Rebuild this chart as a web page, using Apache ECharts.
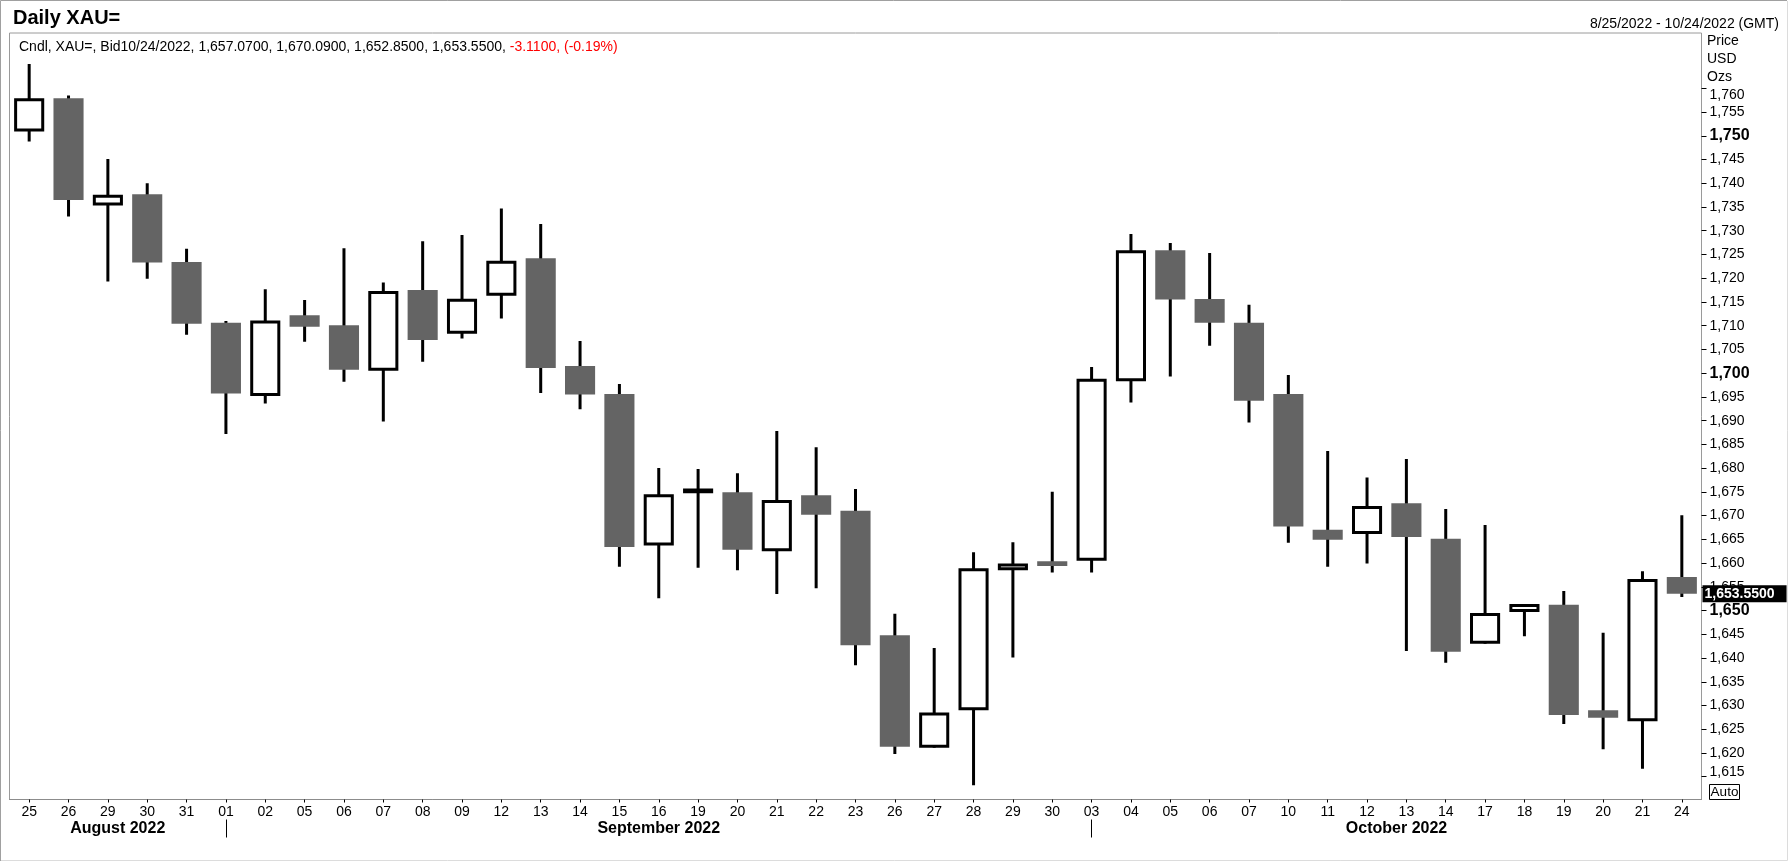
<!DOCTYPE html>
<html>
<head>
<meta charset="utf-8">
<script src="https://cdn.jsdelivr.net/npm/echarts@6/dist/echarts.min.js"></script>
<style>
html,body{margin:0;padding:0;background:#fff;}
#chart{width:1788px;height:862px;}
</style>
</head>
<body>
<div id="chart"></div>
<script>
// ---- data ----
const days = ['25','26','29','30','31','01','02','05','06','07','08','09','12','13','14','15','16','19','20','21','22','23','26','27','28','29','30','03','04','05','06','07','10','11','12','13','14','17','18','19','20','21','24'];
const openP  = [1750.9,1757.9,1735.3,1737.7,1723.4,1710.6,1695.2,1712.2,1710.1,1700.5,1717.5,1708.3,1716.3,1724.2,1701.5,1695.6,1663.7,1674.7,1674.9,1662.5,1674.3,1671.0,1644.8,1621.1,1629.0,1658.5,1660.4,1660.5,1698.3,1725.9,1715.6,1710.6,1695.6,1667.0,1666.1,1672.6,1665.1,1643.0,1649.7,1651.2,1629.0,1626.7,1657.07];
const closeP = [1757.9,1736.5,1737.6,1723.3,1710.4,1695.7,1711.1,1709.8,1700.7,1717.3,1707.0,1715.7,1723.7,1701.1,1695.5,1663.4,1674.5,1675.7,1662.8,1673.3,1670.2,1642.7,1621.3,1628.5,1658.9,1659.9,1659.4,1698.8,1725.9,1715.5,1710.6,1694.2,1667.7,1664.9,1672.0,1665.5,1641.3,1649.5,1651.4,1628.0,1627.4,1656.66,1653.55];
const lowP   = [1748.8,1733.0,1719.3,1719.9,1708.1,1687.2,1693.6,1706.6,1698.2,1689.8,1702.4,1707.3,1711.5,1695.8,1692.4,1659.2,1652.6,1659.0,1658.5,1653.5,1654.7,1638.5,1619.8,1621.1,1613.2,1640.1,1658.0,1658.0,1693.8,1699.3,1705.8,1689.6,1664.3,1659.2,1659.9,1641.5,1639.0,1643.0,1644.6,1626.1,1620.8,1616.7,1652.85];
const highP  = [1765.1,1758.5,1745.1,1740.0,1726.2,1711.0,1717.7,1715.4,1726.3,1719.1,1727.8,1729.1,1734.7,1731.4,1706.8,1697.7,1680.0,1679.8,1678.9,1687.8,1684.4,1675.6,1649.3,1642.1,1662.3,1664.4,1675.0,1701.3,1729.3,1727.4,1725.3,1714.4,1699.6,1683.6,1678.0,1681.9,1671.4,1668.0,1651.4,1654.1,1645.3,1658.3,1670.09];
const monthNames = ['August 2022','September 2022','October 2022'];
const monthStartAt = [5, 27];
const yTickValues = [1615,1620,1625,1630,1635,1640,1645,1650,1655,1660,1665,1670,1675,1680,1685,1690,1695,1700,1705,1710,1715,1720,1725,1730,1735,1740,1745,1750,1755,1760];
const yBoldValues = [1650,1700,1750];
const lastDate = '10/24/2022';
const rangeText = '8/25/2022 - 10/24/2022 (GMT)';
const unitLines = ['Price','USD','Ozs'];

// ---- layout ----
const W = 1788, H = 862;
const plotLeft = 9.5, plotRight = 1701.5, plotTop = 33, plotBottom = 799.5;
const yMin = 1610.2, yMax = 1771.65;
const pxPerUnit = (plotBottom - plotTop) / (yMax - yMin);
const tickFirst = yTickValues[0], tickLast = yTickValues[yTickValues.length-1];
const tickGridTop = plotTop + (yMax - tickLast) * pxPerUnit;
const tickGridBottom = plotTop + (yMax - tickFirst) * pxPerUnit;

// ---- derived ----
const n = days.length;
const candleData = days.map((d,i)=>[i, openP[i], closeP[i], lowP[i], highP[i]]);
const bounds = [-0.5].concat(monthStartAt).concat([n-0.5]);
const monthMid = monthNames.map((m,k)=>(bounds[k]+bounds[k+1])/2);
const fmt4 = v => v.toLocaleString('en-US',{minimumFractionDigits:4, maximumFractionDigits:4});
const L = n-1;
const chg = closeP[L]-closeP[L-1];
const pct = chg/closeP[L-1]*100;
const headMain = 'Cndl, XAU=, Bid' + lastDate + ', ' + fmt4(openP[L]) + ', ' + fmt4(highP[L]) + ', ' + fmt4(lowP[L]) + ', ' + fmt4(closeP[L]) + ', ';
const headRed = chg.toFixed(4) + ', (' + pct.toFixed(2) + '%)';

const FONT = '"Liberation Sans", Arial, sans-serif';

function renderItem(params, api){
  const i = api.value(0), o = api.value(1), c = api.value(2), l = api.value(3), h = api.value(4);
  const pO = api.coord([i,o]), pC = api.coord([i,c]), pL = api.coord([i,l]), pH = api.coord([i,h]);
  const w = api.size([1,0])[0]*0.765;
  const x = pO[0];
  const top = Math.min(pO[1],pC[1]), bot = Math.max(pO[1],pC[1]);
  const up = c >= o;
  const children = [{
    type:'line',
    shape:{x1:x, y1:pH[1], x2:x, y2:pL[1]},
    style:{stroke:'#000', lineWidth:3}
  }];
  if (up){
    children.push({
      type:'rect',
      shape:{x:x-w/2+1.5, y:top+1.5, width:w-3, height:Math.max(bot-top-3,0)},
      style:{fill:'#fff', stroke:'#000', lineWidth:3}
    });
  } else {
    children.push({
      type:'rect',
      shape:{x:x-w/2, y:top, width:w, height:Math.max(bot-top,1)},
      style:{fill:'#646464'}
    });
  }
  return {type:'group', children};
}

const chart = echarts.init(document.getElementById('chart'), null, {renderer:'canvas'});
chart.setOption({
  animation:false,
  backgroundColor:'#fff',
  textStyle:{fontFamily:FONT},
  title:[
    {text:'Daily XAU=', left:8, top:3, textStyle:{fontSize:20, fontWeight:'bold', color:'#000', fontFamily:FONT}},
    {text:'{k|'+headMain+'}{r|'+headRed+'}', left:14, top:35, textStyle:{fontWeight:'normal', rich:{
      k:{fontSize:14, fontWeight:'normal', color:'#000', fontFamily:FONT},
      r:{fontSize:14, fontWeight:'normal', color:'#ff0000', fontFamily:FONT}}}},
    {text:rangeText, right:4, top:12, textStyle:{fontSize:14, fontWeight:'normal', color:'#000', fontFamily:FONT}}
  ],
  grid:[
    {left:plotLeft, right:W-plotRight, top:plotTop, bottom:H-plotBottom, show:true, borderColor:'#9a9a9a', borderWidth:1},
    {left:plotLeft, right:W-plotRight, top:tickGridTop, bottom:H-tickGridBottom, show:false}
  ],
  xAxis:[
    {type:'category', gridIndex:0, data:days, boundaryGap:true,
     axisLine:{show:true, onZero:false, lineStyle:{color:'#8c8c8c', width:1}},
     axisTick:{show:true, alignWithLabel:true, interval:0, length:3, lineStyle:{color:'#000'}},
     axisLabel:{interval:0, margin:6, fontSize:14, color:'#000', fontFamily:FONT},
     splitLine:{show:false}},
    {type:'value', gridIndex:0, min:-0.5, max:n-0.5, position:'bottom', offset:20,
     axisLine:{show:false, onZero:false},
     axisTick:{show:true, length:18, customValues:monthStartAt, lineStyle:{color:'#000', width:1}},
     axisLabel:{show:true, customValues:monthMid, margin:1, fontSize:16, fontWeight:'bold', color:'#000', fontFamily:FONT,
       formatter:function(v){ const k = monthMid.findIndex(m=>Math.abs(m-v)<1e-6); return k>=0 ? monthNames[k] : ''; }},
     splitLine:{show:false}},
    {type:'value', gridIndex:1, show:false, min:0, max:1, axisLine:{onZero:false}}
  ],
  yAxis:[
    {type:'value', gridIndex:0, position:'right', min:yMin, max:yMax, scale:true,
     axisLine:{show:false, onZero:false}, splitLine:{show:false}, axisTick:{show:false}, axisLabel:{show:false}},
    {type:'value', gridIndex:1, position:'right', min:tickFirst, max:tickLast, interval:5,
     axisLine:{show:false, onZero:false}, splitLine:{show:false},
     axisTick:{show:true, length:5, lineStyle:{color:'#000'}},
     axisLabel:{margin:8, fontSize:14, color:'#000', fontFamily:FONT, showMinLabel:true, showMaxLabel:true,
       formatter:function(v){
         const r = Math.round(v);
         const s = r.toLocaleString('en-US');
         if (yBoldValues.indexOf(r)>=0) return '{b|'+s+'}';
         if (r===tickLast) return '{t|'+s+'}';
         if (r===tickFirst) return '{u|'+s+'}';
         return s;
       },
       rich:{
         b:{fontSize:16, fontWeight:'bold', color:'#000', fontFamily:FONT},
         t:{fontSize:14, color:'#000', fontFamily:FONT, padding:[13,0,0,0]},
         u:{fontSize:14, color:'#000', fontFamily:FONT, padding:[0,0,10,0]}
       }}}
  ],
  series:[{
    type:'custom',
    xAxisIndex:0, yAxisIndex:0,
    renderItem:renderItem,
    data:candleData,
    encode:{x:0, y:[1,2,3,4]},
    clip:true,
    z:2
  },{
    type:'line',
    xAxisIndex:0, yAxisIndex:0,
    data:closeP,
    showSymbol:false,
    symbol:'none',
    silent:true,
    clip:false,
    z:5,
    lineStyle:{color:'rgba(0,0,0,0)', width:1},
    markLine:{
      silent:true, symbol:['none','none'],
      animation:false,
      lineStyle:{color:'rgba(0,0,0,0)', width:1, type:'solid'},
      label:{show:true, position:'end', distance:1, formatter:fmt4(closeP[L]), opacity:1,
        backgroundColor:'#000', color:'#fff', fontWeight:'bold', fontSize:14, fontFamily:FONT,
        padding:[2,12,1,2]},
      data:[{yAxis:closeP[L]}]
    }
  }],
  graphic:[
    {type:'text', left:1707, top:34, style:{text:unitLines[0], fill:'#000', font:'14px '+FONT}},
    {type:'text', left:1707, top:52.5, style:{text:unitLines[1], fill:'#000', font:'14px '+FONT}},
    {type:'text', left:1707, top:70.5, style:{text:unitLines[2], fill:'#000', font:'14px '+FONT}},
    {type:'rect', shape:{x:1709.5, y:784.5, width:30, height:15}, style:{fill:'#fff', stroke:'#000', lineWidth:1}},
    {type:'text', x:1724.5, y:792.5, style:{text:'Auto', font:'13.5px '+FONT, fill:'#000', align:'center', verticalAlign:'middle'}},
    {type:'polyline', shape:{points:[[0.5,861],[0.5,0.5],[1787,0.5]]}, style:{stroke:'#a0a0a0', lineWidth:1, fill:null}},
    {type:'polyline', shape:{points:[[1,860.5],[1787.5,860.5],[1787.5,1]]}, style:{stroke:'#dcdcdc', lineWidth:1, fill:null}}
  ]
});
</script>
</body>
</html>
